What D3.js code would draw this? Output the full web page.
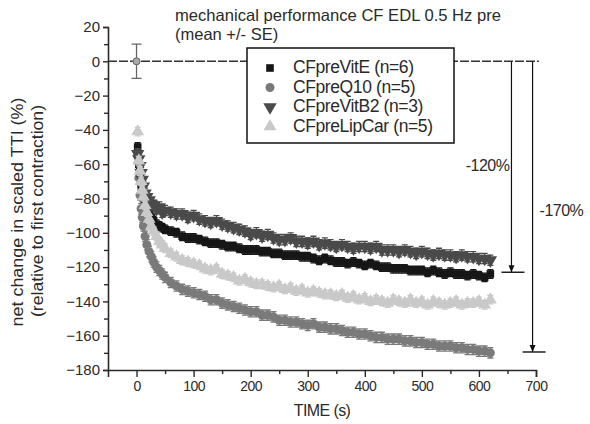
<!DOCTYPE html>
<html><head><meta charset="utf-8">
<script src="https://cdn.jsdelivr.net/npm/d3@7"></script>
<style>
html,body{margin:0;padding:0;background:#fff;}
svg{display:block;font-family:"Liberation Sans",Arial,Helvetica,sans-serif;}
</style></head>
<body><svg id="chart" width="590" height="424"></svg>
<script>
// ---- data ----
const times = [2,4,6,8,10,12,15,18,22,26,30,35,40,45,50,
  60,70,80,90,100,110,120,130,140,150,
  160,170,180,190,200,210,220,230,240,250,
  260,270,280,290,300,310,320,330,340,350,
  360,370,380,390,400,410,420,430,440,450,
  460,470,480,490,500,510,520,530,540,550,
  560,570,580,590,600,610,620];
const vitE = [-50,-60,-66,-72,-76,-80,-84,-87,-89,-91,-93,-95,-96,-97,-98,
  -99,-100,-102,-103,-103,-104,-105,-106,-106,-107,
  -108,-108,-109,-110,-110,-110,-111,-111,-112,-112,
  -113,-113,-113,-114,-114,-115,-116,-115,-116,-117,
  -117,-118,-117,-118,-119,-118,-119,-120,-120,-121,
  -121,-121,-122,-122,-122,-123,-122,-123,-124,-123,
  -124,-124,-125,-124,-125,-126,-124];
const q10 = [-55,-68,-78,-86,-91,-96,-102,-107,-111,-114,-117,-120,-122,-124,-126,
  -129,-131,-133,-134,-135,-136,-137,-139,-139,-141,
  -142,-143,-144,-145,-146,-146,-148,-148,-149,-151,
  -151,-152,-152,-153,-154,-153,-155,-155,-156,-156,
  -157,-158,-158,-159,-159,-160,-161,-161,-162,-162,
  -162,-163,-163,-164,-164,-165,-165,-166,-166,-166,
  -167,-167,-168,-168,-169,-169,-170];
const vitB2 = [-54,-57,-61,-65,-69,-73,-77,-79,-81,-83,-84,-86,-85,-88,-87,
  -88,-89,-89,-91,-90,-92,-93,-94,-93,-95,
  -96,-97,-98,-99,-101,-100,-102,-101,-103,-104,
  -104,-103,-105,-105,-106,-105,-107,-106,-107,-108,
  -107,-108,-109,-108,-108,-109,-108,-110,-110,-110,
  -111,-110,-111,-112,-111,-112,-113,-112,-113,-113,
  -114,-113,-114,-114,-115,-115,-116];
const lipCar = [-41,-58,-64,-70,-75,-79,-84,-88,-92,-96,-99,-102,-105,-107,-109,
  -112,-114,-116,-117,-118,-119,-121,-122,-121,-124,
  -125,-126,-128,-127,-129,-130,-130,-131,-132,-131,
  -133,-132,-134,-133,-135,-134,-135,-136,-136,-137,
  -136,-138,-137,-139,-138,-140,-139,-140,-141,-139,
  -140,-141,-139,-141,-140,-142,-140,-141,-142,-141,
  -140,-142,-141,-141,-140,-142,-139];
const seriesNames = ["CFpreVitE (n=6)","CFpreQ10 (n=5)","CFpreVitB2 (n=3)","CFpreLipCar (n=5)"];
const seriesSE = [2.5,3,3,2.5];
const baselinePoint = {t:0, v:0, se:10};
const xTicks = [0,100,200,300,400,500,600,700];
const yTicks = [20,0,-20,-40,-60,-80,-100,-120,-140,-160,-180];
const annotations = [{t:657, v:-123, label:"-120%"},{t:694, v:-169.5, label:"-170%"}];

const seriesValues = [vitE, q10, vitB2, lipCar];
const colors = ["#161616","#7a7a7a","#4a4a4a","#c9c9c9"];
const shapes = [d3.symbolSquare, d3.symbolCircle, d3.symbolTriangle, d3.symbolTriangle];
const sizes = [58, 64, 78, 72];
const rot = [0,0,180,0];

const svg = d3.select("#chart");
const x = d3.scaleLinear().domain([-50,700]).range([108,536]);
const y = d3.scaleLinear().domain([-180,20]).range([370,27]);
const ink = "#2a2a2a";

// zero reference line
svg.append("line").attr("x1",x(-50)).attr("x2",x(705)).attr("y1",y(0)).attr("y2",y(0))
  .attr("stroke","#333").attr("stroke-width",1.5).attr("stroke-dasharray","9,2");

// series
seriesValues.forEach((vals,i)=>{
  const g = svg.append("g");
  const pts = times.map((t,j)=>({t, v:vals[j]}));
  const se = seriesSE[i];
  g.selectAll("path.err").data(pts).enter().append("path")
    .attr("d",d=>`M${x(d.t)-3},${y(d.v+se)}H${x(d.t)+3}M${x(d.t)},${y(d.v+se)}V${y(d.v-se)}M${x(d.t)-3},${y(d.v-se)}H${x(d.t)+3}`)
    .attr("stroke",colors[i]).attr("stroke-width",1.3).attr("fill","none");
  g.selectAll("path.pt").data(pts).enter().append("path")
    .attr("d",d3.symbol().type(shapes[i]).size(sizes[i]))
    .attr("transform",d=>`translate(${x(d.t)},${y(d.v)}) rotate(${rot[i]})`)
    .attr("fill",colors[i]);
});

// baseline point
svg.append("path")
  .attr("d",`M${x(0)-5},${y(baselinePoint.se)}H${x(0)+5}M${x(0)},${y(baselinePoint.se)}V${y(-baselinePoint.se)}M${x(0)-5},${y(-baselinePoint.se)}H${x(0)+5}`)
  .attr("stroke","#666").attr("stroke-width",1.3).attr("fill","none");
svg.append("circle").attr("cx",x(baselinePoint.t)).attr("cy",y(baselinePoint.v)).attr("r",3.5)
  .attr("fill","#aaa").attr("stroke","#666").attr("stroke-width",1);

// axes
const yAxis = d3.axisLeft(y).tickValues(yTicks).tickSize(5).tickPadding(3);
const gy = svg.append("g").attr("transform",`translate(${x(-50)},0)`).call(yAxis);
gy.select(".domain").attr("stroke",ink).attr("stroke-width",1.6);
gy.selectAll(".tick line").attr("stroke",ink).attr("stroke-width",1.4);
gy.selectAll(".tick text").attr("font-size",15).attr("fill",ink).attr("font-family","Liberation Sans, Arial, sans-serif");
const yMinor = d3.axisLeft(y).tickValues(d3.range(-170,20,20)).tickSize(4).tickFormat("");
const gym = svg.append("g").attr("transform",`translate(${x(-50)},0)`).call(yMinor);
gym.select(".domain").remove();
gym.selectAll(".tick line").attr("stroke",ink).attr("stroke-width",1.4);

const xAxis = d3.axisBottom(x).tickValues(xTicks).tickSize(7).tickPadding(4);
const gx = svg.append("g").attr("transform",`translate(0,${y(-180)})`).call(xAxis);
gx.select(".domain").attr("stroke",ink).attr("stroke-width",1.6);
gx.selectAll(".tick line").attr("stroke",ink).attr("stroke-width",1.4);
gx.selectAll(".tick text").attr("font-size",14).attr("fill",ink).attr("font-family","Liberation Sans, Arial, sans-serif").attr("letter-spacing","-0.5");
const xMinor = d3.axisBottom(x).tickValues([50,150,250,350,450,550,650]).tickSize(4).tickFormat("");
const gxm = svg.append("g").attr("transform",`translate(0,${y(-180)})`).call(xMinor);
gxm.select(".domain").remove();
gxm.selectAll(".tick line").attr("stroke",ink).attr("stroke-width",1.4);

// axis titles
svg.append("text").attr("x",322).attr("y",416).attr("text-anchor","middle")
  .attr("font-size",16).attr("fill",ink).attr("letter-spacing","-0.6").text("TIME (s)");
svg.append("text").attr("transform","translate(23,212) rotate(-90)").attr("text-anchor","middle")
  .attr("font-size",16.5).attr("fill",ink).attr("textLength",229).attr("lengthAdjust","spacingAndGlyphs")
  .text("net change in scaled TTI (%)");
svg.append("text").attr("transform","translate(43,211) rotate(-90)").attr("text-anchor","middle")
  .attr("font-size",16.5).attr("fill",ink).attr("textLength",212).attr("lengthAdjust","spacingAndGlyphs")
  .text("(relative to first contraction)");

// title
svg.append("text").attr("x",175).attr("y",21).attr("font-size",16.5).attr("fill",ink)
  .attr("textLength",326).attr("lengthAdjust","spacingAndGlyphs")
  .text("mechanical performance CF EDL 0.5 Hz pre");
svg.append("text").attr("x",175).attr("y",40).attr("font-size",16.5).attr("fill",ink)
  .text("(mean +/- SE)");

// annotations
annotations.forEach(a=>{
  const ax = x(a.t), ay = y(a.v);
  svg.append("line").attr("x1",ax).attr("x2",ax).attr("y1",y(0)).attr("y2",ay)
    .attr("stroke","#111").attr("stroke-width",1.2);
  svg.append("path").attr("d",`M${ax-3},${ay-7}L${ax+3},${ay-7}L${ax},${ay}Z`).attr("fill","#111");
  svg.append("line").attr("x1",ax-10).attr("x2",ax+13).attr("y1",ay).attr("y2",ay)
    .attr("stroke","#111").attr("stroke-width",1.4);
});
svg.append("text").attr("x",x(annotations[0].t)-2).attr("y",171).attr("text-anchor","end")
  .attr("font-size",16).attr("fill",ink).attr("letter-spacing","-0.5").text(annotations[0].label);
svg.append("text").attr("x",x(annotations[1].t)+7).attr("y",216)
  .attr("font-size",16).attr("fill",ink).attr("letter-spacing","-0.5").text(annotations[1].label);

// legend
const lg = svg.append("g");
lg.append("rect").attr("x",247).attr("y",48).attr("width",207).attr("height",95)
  .attr("fill","#fff").attr("stroke","#111").attr("stroke-width",1.5);
seriesNames.forEach((n,i)=>{
  const cy = 67 + i*19.5;
  lg.append("path").attr("d",d3.symbol().type(shapes[i]).size(sizes[i]))
    .attr("transform",`translate(270,${cy+1}) rotate(${rot[i]})`).attr("fill",colors[i]);
  lg.append("text").attr("x",293).attr("y",cy+6).attr("font-size",17.5).attr("fill",ink)
    .attr("letter-spacing","-0.4").text(n);
});
</script></body></html>
